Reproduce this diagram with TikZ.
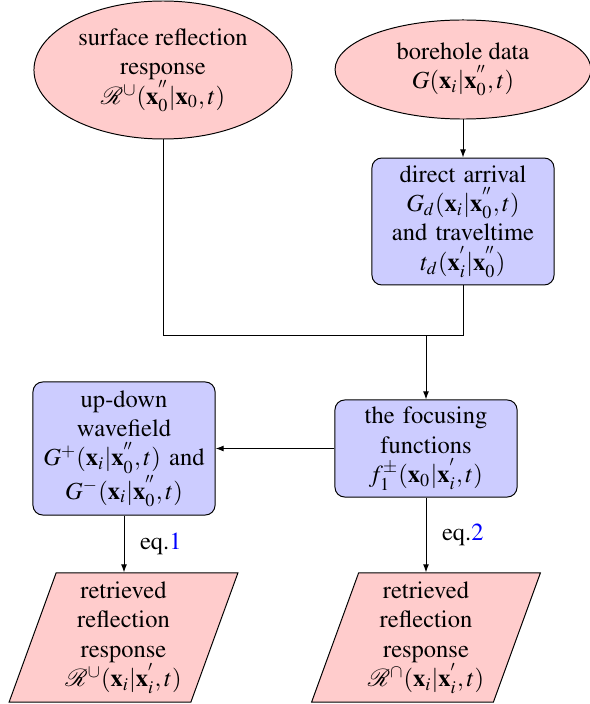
\documentclass[tikz,border=0pt]{standalone}
\usepackage{mathptmx}
\usepackage{mathrsfs}
\usetikzlibrary{shapes.geometric,arrows.meta}
\begin{document}
\begin{tikzpicture}[x=0.408pt,y=-0.408pt,
  every node/.style={font=\fontencoding{OT1}\fontfamily{ptm}\fontsize{10}{12}\selectfont},
  startnode/.style={ellipse, draw=black, fill=red!20, inner sep=0pt, align=center},
  procbox/.style={rectangle, rounded corners=4pt, draw=black, fill=blue!20, align=center,
    text width=68pt, inner xsep=3pt, inner ysep=2pt, minimum width=74.3pt},
  resultnode/.style={trapezium, trapezium left angle=70, trapezium right angle=110,
    draw=black, fill=red!20, align=center, text width=49pt, inner xsep=3pt, inner ysep=3.5pt},
  arr/.style={-{Latex[length=3.3pt,width=2.4pt]}},
  eqlabel/.style={right, xshift=3pt}
]
\useasboundingbox (0,0) rectangle (590,704);

\node[startnode, minimum width=105.3pt, minimum height=56.3pt] (surf) at (163,70)
  {surface reflection\\response\\$\mathscr{R}^{\cup}(\mathbf{x}_0^{''}|\mathbf{x}_0,t)$};
\node[startnode, minimum width=104.4pt, minimum height=40.4pt] (bore) at (463,69.5)
  {borehole data\\$G(\mathbf{x}_i|\mathbf{x}_0^{''},t)$};

\node[procbox, minimum height=51.8pt] (direct) at (463,221.5)
  {direct arrival\\$G_d(\mathbf{x}_i|\mathbf{x}_0^{''},t)$\\and traveltime\\$t_d(\mathbf{x}_i^{'}|\mathbf{x}_0^{''})$};
\node[procbox, minimum height=39.6pt] (focus) at (426,448.5)
  {the focusing\\functions\\$f_1^{\pm}(\mathbf{x}_0|\mathbf{x}_i^{'},t)$};
\node[procbox, minimum height=54.3pt] (updown) at (124,448.5)
  {up-down\\wavefield\\$G^{+}(\mathbf{x}_i|\mathbf{x}_0^{''},t)$ and\\$G^{-}(\mathbf{x}_i|\mathbf{x}_0^{''},t)$};

\node[resultnode] (res1) at (123.5,637.5)
  {retrieved\\reflection\\response\\$\mathscr{R}^{\cup}(\mathbf{x}_i|\mathbf{x}_i^{'},t)$};
\node[resultnode] (res2) at (426,637.5)
  {retrieved\\reflection\\response\\$\mathscr{R}^{\cap}(\mathbf{x}_i|\mathbf{x}_i^{'},t)$};

\coordinate (bend) at (463,335);
\coordinate (join) at (426,335);
\draw (surf.south) |- (bend) -- (direct.south);
\draw[arr] (join) -- (focus.north);
\draw[arr] (bore.south) -- (direct.north);
\draw[arr] (focus.west) -- (updown.east);
\draw[arr] (updown.south) -- node[eqlabel] {eq.\textcolor{blue}{1}} (updown.south |- res1.north);
\draw[arr] (focus.south) -- node[eqlabel] {eq.\textcolor{blue}{2}} (focus.south |- res2.north);
\end{tikzpicture}
\end{document}
